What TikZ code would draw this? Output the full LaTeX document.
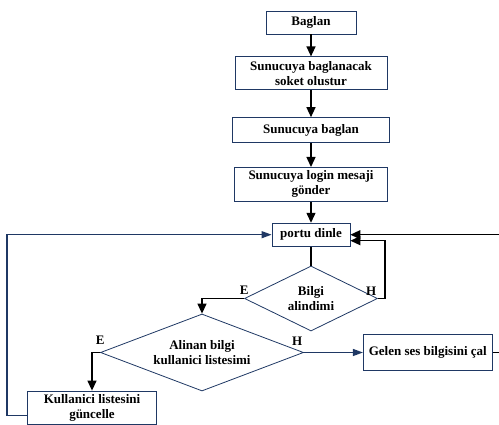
\documentclass[tikz,border=0pt]{standalone}
\usepackage{fontspec}
\setmainfont{Liberation Serif}
\usepackage{xcolor}
\definecolor{rahmen}{RGB}{31, 56, 100}
\usepackage{tikz}
\usetikzlibrary{
    shapes.geometric,
    arrows.meta,
    positioning
}
\tikzstyle{kutu} = [
    rectangle, draw,
    text centered,
    align=center,
    draw=rahmen,
    line width=0.8pt,
    fill=white,
    inner sep=2pt,
    font=\fontsize{13}{15}\selectfont\bfseries
]
\tikzstyle{karar} = [
    diamond,
    draw=rahmen,
    line width=0.8pt,
    text centered,
    align=center,
    inner sep=0pt,
    font=\fontsize{13}{15}\selectfont\bfseries
]
\tikzstyle{etiket} = [
    inner sep=1pt,
    font=\fontsize{13}{15}\selectfont\bfseries
]
\tikzstyle{arrow} = [
    line width=1.3pt,
    -{Triangle[length=10pt, width=9pt]}
]
\tikzstyle{bluearrow} = [
    line width=1.3pt,
    draw=rahmen,
    -{Triangle[length=10pt, width=7pt]}
]

\begin{document}
\begin{tikzpicture}[x=1pt, y=1pt]

\useasboundingbox (0,0) rectangle (499,-425);

\node (baglan) [kutu, minimum width=90pt, minimum height=23pt] at (311,-22.5)
    {Baglan};
\node (soket) [kutu, minimum width=152pt, minimum height=33pt, below=22pt of baglan]
    {Sunucuya baglanacak\\soket olustur};
\node (sbaglan) [kutu, minimum width=157pt, minimum height=25pt, below=27pt of soket]
    {Sunucuya baglan};
\node (login) [kutu, minimum width=153pt, minimum height=34pt, below=24pt of sbaglan]
    {Sunucuya login mesaji\\g\"onder};
\node (dinle) [kutu, minimum width=78pt, minimum height=23pt, below=21pt of login]
    {portu dinle};
\node (bilgi) [karar, aspect=2.05, minimum width=133pt, minimum height=65pt, below=19pt of dinle]
    {Bilgi\\alindimi};
\node (liste) [karar, aspect=2.64, minimum width=203pt, minimum height=77pt] at (202,-352.5)
    {Alinan bilgi\\kullanici listesimi};
\node (gelen) [kutu, minimum width=129pt, minimum height=36pt, right=59pt of liste]
    {Gelen ses bilgisini \c{c}al};
\node (kull) [kutu, minimum width=129pt, minimum height=33pt] at (92,-407.5)
    {Kullanici listesini\\g\"uncelle};

\draw [arrow] (baglan) -- (soket);
\draw [arrow] (soket) -- (sbaglan);
\draw [arrow] (sbaglan) -- (login);
\draw [arrow] (login) -- (dinle);
\draw [line width=1.3pt] (dinle) -- (bilgi);

% Bilgi alindimi
\draw [arrow] (bilgi.west) node (e1) [etiket, above=2pt] {E} -| (liste.north);
\draw [arrow] (bilgi.east) node (h1) [etiket, above left=1pt and 0pt] {H}
              -- ++(7,0) |- ([yshift=-6pt]dinle.east);

% Alinan bilgi kullanici listesimi
\draw [arrow] (liste.west) node (e2) [etiket, above=6pt] {E} -| (kull.north);
\draw [bluearrow] (liste.east) node (h2) [etiket, above left=5pt and 0pt] {H} -- (gelen.west);

% geri donusler
\draw [arrow] (gelen.east) -- ++(8,0) |- (dinle.east);
\draw [bluearrow] ([yshift=-8pt]kull.west) -- ++(-20,0) |- (dinle.west);

\end{tikzpicture}
\end{document}
